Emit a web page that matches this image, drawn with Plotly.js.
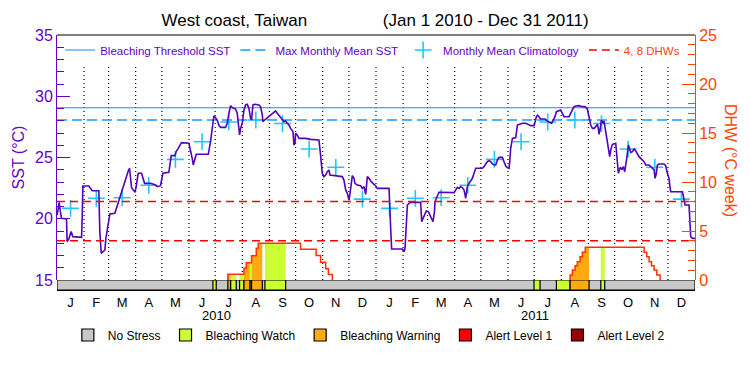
<!DOCTYPE html>
<html><head><meta charset="utf-8">
<script src="https://cdn.plot.ly/plotly-3.0.1.min.js"></script>
<style>html,body{margin:0;padding:0;background:#fff;}#chart{width:750px;height:375px;}</style>
</head><body><div id="chart"></div>
<script>
// ---- data (day index counted from Jan 1 2010) ----
const sstDay = [
0.2,1.3,2.5,3.6,5.2,10.9,11.6,13.5,16.2,18.1,
28.1,28.8,29.6,36.4,38.4,40.3,47.9,49.0,50.6,52.9,
54.8,55.9,57.4,58.6,60.5,66.2,67.4,68.9,70.8,72.0,
73.8,75.7,77.7,79.6,81.5,83.0,84.1,85.3,87.2,89.1,
90.3,91.8,92.9,96.7,98.3,100.2,107.0,112.8,114.7,118.5,
119.6,121.2,128.0,129.9,130.7,134.9,136.4,138.7,140.6,142.5,
150.9,152.8,154.7,155.9,157.4,159.3,173.1,174.6,175.7,176.9,
178.0,179.5,181.4,183.3,185.2,187.2,192.9,194.8,196.7,198.6,
200.5,204.3,206.2,207.4,208.9,210.1,212.0,213.9,215.8,217.7,
219.6,221.5,222.6,224.2,226.5,231.0,232.9,234.9,235.6,237.5,
240.6,244.4,248.2,250.1,252.0,253.9,256.6,259.7,261.6,263.5,
265.4,267.3,270.0,271.1,272.3,273.0,274.9,276.8,284.5,290.2,
299.7,301.6,303.5,305.4,307.4,309.3,311.2,312.3,318.8,326.4,
328.3,330.3,332.2,334.1,334.8,336.0,337.9,339.8,340.9,343.6,
347.4,349.3,351.3,353.2,355.1,357.0,358.9,362.7,364.6,366.5,
379.9,381.8,382.9,395.1,397.0,398.2,399.7,400.9,402.8,404.7,
416.1,417.3,418.8,421.1,422.6,424.9,426.4,428.7,430.2,431.8,
432.5,434.1,435.6,437.1,454.3,456.2,458.1,460.0,461.9,463.8,
465.7,466.9,467.6,468.4,469.5,471.4,473.4,475.3,477.2,479.1,
486.7,488.6,490.5,492.4,494.3,496.3,498.2,500.1,502.0,503.9,
505.8,509.6,511.5,513.4,515.3,517.2,518.0,519.1,521.1,524.9,
526.8,528.7,532.5,536.4,540.2,542.1,545.9,547.0,548.5,550.0,
553.4,558.4,561.1,563.0,566.0,567.5,569.8,571.4,573.6,576.3,
578.2,580.1,585.9,587.8,589.7,591.6,593.5,597.3,601.1,604.2,
606.8,608.0,609.5,610.7,612.6,614.5,616.4,618.3,619.4,620.2,
621.3,622.1,622.9,624.0,625.2,625.9,627.8,629.0,630.9,631.7,
632.4,633.6,635.5,639.3,640.0,641.2,642.3,643.9,645.0,646.2,
648.1,649.6,650.7,651.9,653.8,655.3,656.5,658.4,660.3,662.2,
664.1,666.0,667.9,669.8,671.7,673.6,677.4,679.4,681.3,683.2,
684.3,685.8,687.0,688.9,694.6,696.5,698.4,700.3,701.1,702.2,
715.6,716.8,718.7,723.2,724.0,725.1,727.1,730.0];
const sstVal = [
20.3,21.0,21.34,20.7,20.03,19.98,18.13,18.35,18.95,18.54,
18.48,20.03,22.67,22.67,22.48,22.29,22.29,18.95,17.18,17.31,
17.45,18.4,19.08,19.9,20.39,20.44,20.71,20.99,21.45,21.8,
22.21,22.62,23.16,23.57,23.9,24.12,23.57,22.54,22.35,22.21,
22.48,23.3,23.71,23.71,23.3,22.89,22.89,22.75,22.62,22.7,
23.16,23.71,23.79,24.66,25.15,25.15,25.48,25.75,26.02,26.21,
26.16,25.61,24.93,24.39,24.8,25.26,25.26,25.75,26.29,26.97,
27.79,28.41,28.25,28.06,27.65,27.46,27.46,27.79,28.61,29.23,
29.07,28.96,28.61,27.52,26.84,27.38,27.79,28.88,29.29,29.34,
29.01,28.2,28.06,29.29,29.34,29.29,29.15,28.47,27.92,28.06,
28.25,28.47,28.74,28.8,28.61,28.47,28.2,27.92,27.98,27.79,
27.65,27.38,27.11,26.02,26.16,26.97,26.84,26.56,26.56,26.48,
26.43,25.2,23.71,23.44,23.57,23.84,23.98,23.57,23.52,23.44,
23.16,22.35,22.07,21.53,21.8,22.62,23.52,23.3,22.89,22.75,
22.7,22.48,22.62,21.99,23.44,23.3,23.08,22.81,22.7,22.48,
22.48,19.22,17.53,17.53,17.31,17.59,19.76,21.12,21.26,21.34,
21.34,19.76,20.03,20.44,20.63,20.58,20.3,19.98,19.76,20.52,
21.34,21.67,22.02,22.16,22.13,22.35,22.56,22.48,22.62,22.54,
22.35,21.94,21.67,22.07,22.62,22.89,23.08,23.3,23.71,24.12,
24.12,24.25,24.47,24.66,24.74,24.66,24.47,24.39,24.39,24.8,
25.01,25.01,24.66,24.31,24.17,24.12,24.66,25.75,26.56,26.62,
27.65,27.71,27.79,27.79,27.65,27.6,27.6,27.92,28.33,28.45,
28.14,28.14,27.98,27.87,27.79,27.98,28.33,28.74,28.82,28.88,
28.61,28.33,28.33,28.61,29.01,29.15,29.2,29.23,29.15,29.15,
28.96,28.47,28.06,27.65,27.38,27.38,27.52,27.71,27.38,26.89,
27.24,27.65,28.06,27.92,27.79,27.98,27.11,26.7,26.02,25.34,
25.07,25.61,26.07,26.16,25.61,24.52,23.71,24.12,24.17,23.98,
24.25,23.84,24.25,24.93,26.02,25.75,25.42,25.48,25.69,25.53,
25.26,25.07,24.93,24.8,24.66,24.39,24.39,24.25,24.12,23.98,
23.3,23.71,24.39,24.47,24.47,24.33,23.71,23.3,22.75,22.21,
22.21,21.8,21.12,21.12,19.76,18.54,18.4,18.4];

const climMonthVal = [20.85,21.67,21.72,22.73,24.85,26.29,27.9,28.06,27.77,25.69,24.2,21.6];
const mmmSST = 28.06;
const bleachThresholdSST = 29.06;
const dhwLevels = [4, 8];

const dhwDay = [195.5,195.5,213.9,216.5,222.6,228.0,230.3,278.7,296.5,301.6,307.4,310.5,315.0,null,
                587.1,587.1,589.7,592.8,595.4,598.5,601.2,604.5,671.8,674.8,677.5,680.2,683.2,686.3,690.1];
const dhwVal = [0,0.58,1.19,1.77,2.48,3.23,3.74,3.15,2.5,1.8,1.15,0.55,0,null,
                0,0.51,1.02,1.46,1.87,2.38,2.82,3.33,2.82,2.38,1.87,1.46,1.02,0.51,0];

const watchStart = [178.4,198.6,208.9,220.7,237.9,545.8,571.4,622.2];
const watchEnd   = [182.2,205.1,213.9,222.6,261.6,552.7,587.1,626.7];
const warnStart  = [195.5,213.9,222.6,587.1];
const warnEnd    = [198.6,220.7,234.9,608.8];

const monthLetters = ['J','F','M','A','M','J','J','A','S','O','N','D'];
const years = [2010, 2011];
const stressNames = ['No Stress','Bleaching Watch','Bleaching Warning','Alert Level 1','Alert Level 2'];

// ---- styling ----
const FONT = 'Liberation Sans, Arial, sans-serif';
const PURPLE = '#6400c8', SSTLINE = '#5500bb', ORANGE = '#ff4500', DHWLINE = '#ff3300';
const BLUE = '#0f8fff', BLUE2 = '#1a9cff', CYAN = '#1ec8ff';
const C_NONE = '#c8c8c8', C_WATCH = '#ccff33', C_WARN = '#ffaa10', C_AL1 = '#ff0000', C_AL2 = '#990000';

// ---- calendar helpers ----
const dayOf = (y, m, d) => (Date.UTC(y, m, d) - Date.UTC(2010, 0, 1)) / 864e5;
const monthStarts = [];
years.forEach(y => { for (let m = 0; m < 12; m++) monthStarts.push(dayOf(y, m, 1)); });
monthStarts.push(dayOf(2012, 0, 1));
const endDay = monthStarts[monthStarts.length - 1];
const midMonths = monthStarts.slice(0, -1).map((s, i) => (s + monthStarts[i + 1]) / 2);
const tickText = years.flatMap(() => monthLetters);
const climVals = years.flatMap(() => climMonthVal);

function dhwAt(t) {
  let v = 0;
  for (let i = 0; i < dhwDay.length; i++) {
    if (dhwDay[i] === null) continue;
    if (dhwDay[i] <= t) v = dhwVal[i];
  }
  return v;
}
function fillTrace(s, e, color) {
  const xs = [s], ys = [dhwAt(s)];
  dhwDay.forEach(d => { if (d !== null && d > s && d < e) { xs.push(d); ys.push(dhwAt(d)); } });
  xs.push(e); ys.push(dhwAt(e - 1e-6));
  return {x: xs, y: ys, yaxis: 'y2', mode: 'lines', line: {shape: 'hv', width: 0, color: color},
          fill: 'tozeroy', fillcolor: color, showlegend: false, hoverinfo: 'skip'};
}

const traces = [];
// dotted month separators
const gx = [], gy = [];
monthStarts.slice(1, -1).forEach(d => { gx.push(d, d, null); gy.push(15, 32.6, null); });
traces.push({x: gx, y: gy, mode: 'lines', line: {color: '#000', width: 1.2, dash: '1px,3px'}, showlegend: false, hoverinfo: 'skip'});
// thresholds
traces.push({x: [0, endDay], y: [bleachThresholdSST, bleachThresholdSST], mode: 'lines', name: 'Bleaching Threshold SST',
  line: {color: BLUE, width: 1.2}});
traces.push({x: [0, endDay], y: [mmmSST, mmmSST], mode: 'lines', name: 'Max Monthly Mean SST',
  line: {color: BLUE2, width: 1.3, dash: '10px,5px'}});
traces.push({x: midMonths, y: climVals, mode: 'markers', name: 'Monthly Mean Climatology',
  marker: {symbol: 'cross-thin', size: 12, color: CYAN, line: {color: CYAN, width: 1.6}}});
// SST
traces.push({x: sstDay, y: sstVal, mode: 'lines', line: {color: SSTLINE, width: 1.6}, showlegend: false});
// DHW fills by alert
watchStart.forEach((s, i) => traces.push(fillTrace(s, watchEnd[i], C_WATCH)));
warnStart.forEach((s, i) => traces.push(fillTrace(s, warnEnd[i], C_WARN)));
// DHW line
traces.push({x: dhwDay, y: dhwVal, yaxis: 'y2', mode: 'lines', line: {color: DHWLINE, width: 1.5, shape: 'hv'},
  connectgaps: false, showlegend: false});
// 4, 8 DHW lines
const lx = [], ly = [];
dhwLevels.forEach(v => { lx.push(0, endDay, null); ly.push(v, v, null); });
traces.push({x: lx, y: ly, yaxis: 'y2', mode: 'lines', name: '<span style="color:' + ORANGE + '">4, 8 DHWs</span>',
  line: {color: '#ff0000', width: 1.5, dash: '8px,5px'}});
// stress bar
const barCommon = {type: 'bar', yaxis: 'y3', base: 0, legend: 'legend2', hoverinfo: 'skip'};
traces.push(Object.assign({}, barCommon, {name: stressNames[0], x: [endDay / 2], y: [1], width: [endDay],
  marker: {color: C_NONE, line: {color: '#000', width: 1.2}}}));
traces.push(Object.assign({}, barCommon, {name: stressNames[1],
  x: watchStart.map((s, i) => (s + watchEnd[i]) / 2), y: watchStart.map(() => 1), width: watchStart.map((s, i) => watchEnd[i] - s),
  marker: {color: C_WATCH, line: {color: '#000', width: 1.2}}}));
traces.push(Object.assign({}, barCommon, {name: stressNames[2],
  x: warnStart.map((s, i) => (s + warnEnd[i]) / 2), y: warnStart.map(() => 1), width: warnStart.map((s, i) => warnEnd[i] - s),
  marker: {color: C_WARN, line: {color: '#000', width: 1.2}}}));
traces.push(Object.assign({}, barCommon, {name: stressNames[3], x: [-50], y: [1], width: [1],
  marker: {color: C_AL1, line: {color: '#000', width: 1.2}}}));
traces.push(Object.assign({}, barCommon, {name: stressNames[4], x: [-50], y: [1], width: [1],
  marker: {color: C_AL2, line: {color: '#000', width: 1.2}}}));

const NB = '\u00a0';
const layout = {
  width: 750, height: 375,
  margin: {l: 57, r: 55, t: 35, b: 85},
  paper_bgcolor: '#fff', plot_bgcolor: '#fff',
  font: {family: FONT, color: '#000'},
  barmode: 'overlay',
  title: {text: 'West coast, Taiwan' + NB.repeat(16) + '(Jan 1 2010 - Dec 31 2011)',
    x: 0.5, xref: 'container', y: 1 - 20 / 375, yref: 'container', yanchor: 'middle',
    font: {family: FONT, size: 17, color: '#000'}},
  xaxis: {range: [0, endDay], anchor: 'y3', showgrid: false, zeroline: false, showline: true, linecolor: '#000', linewidth: 1,
    tickmode: 'array', tickvals: midMonths, ticktext: tickText, ticks: '', tickfont: {size: 13, color: '#000'}},
  yaxis: {domain: [10 / 255, 1], range: [15, 35], anchor: 'x', showgrid: false, zeroline: false,
    showline: true, linecolor: PURPLE, linewidth: 1, color: PURPLE,
    tickmode: 'linear', tick0: 15, dtick: 5, ticks: 'inside', ticklen: 13, tickcolor: PURPLE, tickwidth: 1,
    minor: {dtick: 1, ticks: 'inside', ticklen: 7, tickcolor: PURPLE, tickwidth: 1, showgrid: false},
    tickfont: {size: 16, color: PURPLE},
    title: {text: 'SST (°C)', font: {size: 16, color: PURPLE}, standoff: 6}},
  yaxis2: {overlaying: 'y', side: 'right', anchor: 'x', range: [0, 25], showgrid: false, zeroline: false,
    showline: true, linecolor: ORANGE, linewidth: 1, color: ORANGE,
    tickmode: 'linear', tick0: 0, dtick: 5, ticks: 'inside', ticklen: 13, tickcolor: ORANGE, tickwidth: 1,
    minor: {dtick: 1, ticks: 'inside', ticklen: 7, tickcolor: ORANGE, tickwidth: 1, showgrid: false},
    tickfont: {size: 16, color: ORANGE}},
  yaxis3: {domain: [0, 10 / 255], range: [0, 1], anchor: 'x', showgrid: false, zeroline: false, showline: false,
    showticklabels: false, ticks: ''},
  legend: {orientation: 'h', x: 0.005, xanchor: 'left', y: 1 - 15 / 255, yanchor: 'middle',
    font: {family: FONT, size: 11.5, color: PURPLE}, bgcolor: 'rgba(0,0,0,0)', borderwidth: 0, itemwidth: 30},
  legend2: {orientation: 'h', x: 0.017, xanchor: 'left', y: -45 / 255, yanchor: 'middle',
    font: {family: FONT, size: 12, color: '#000'}, bgcolor: 'rgba(0,0,0,0)', borderwidth: 0},
  shapes: [{type: 'line', xref: 'paper', yref: 'paper', x0: 0, x1: 1, y0: 1, y1: 1, line: {color: '#000', width: 1}}],
  annotations: years.map(y => ({text: String(y), x: dayOf(y, 6, 2), xref: 'x', y: -25 / 255, yref: 'paper',
      yanchor: 'middle', showarrow: false, font: {size: 13, color: '#000'}}))
    .concat([{text: 'DHW (°C week)', textangle: 90, x: (731 - 57) / 638, xref: 'paper', y: 130 / 255, yref: 'paper',
      xanchor: 'center', yanchor: 'middle', showarrow: false, font: {size: 16, color: ORANGE}}])
};

Plotly.newPlot('chart', traces, layout, {displayModeBar: false, staticPlot: true});
</script></body></html>
